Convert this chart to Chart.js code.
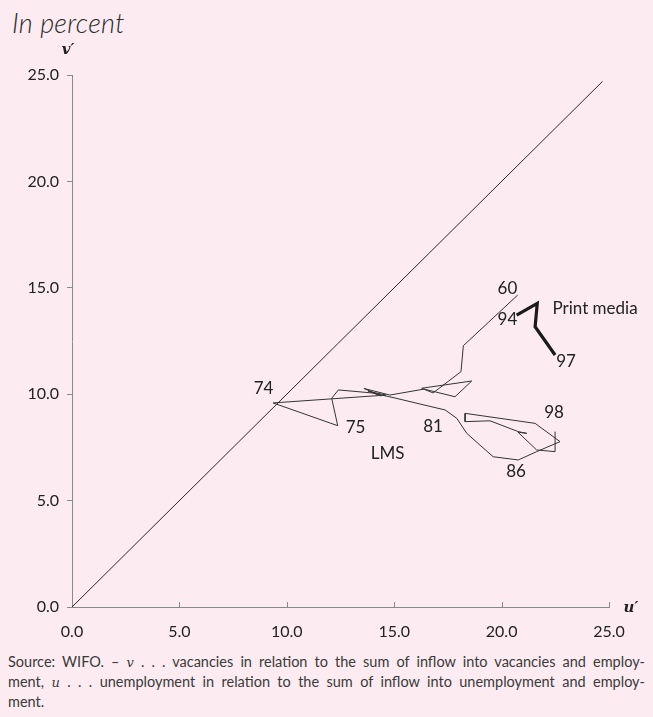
<!DOCTYPE html>
<html>
<head>
<meta charset="utf-8">
<script src="https://cdn.jsdelivr.net/npm/chart.js@4.4.1/dist/chart.umd.min.js"></script>
<style>
    body { margin: 0; background: #fcecf1; width: 653px; height: 717px; overflow: hidden; font-family: Lato, sans-serif; color: #2b2b2b; }
    #title { position: absolute; left: 12px; top: 6px; font-size: 27px; font-style: italic; font-weight: 300; letter-spacing: 0.3px; }
    #wrap { position: absolute; left: 0; top: 0; width: 653px; height: 645px; }
    #source { position: absolute; left: 8px; top: 652px; width: 637px; font-size: 14.5px; line-height: 19px; color: #3a3a3a; }
    #source div { text-align: justify; text-align-last: justify; white-space: nowrap; }
    #source div.last { text-align-last: left; }
    #source i { font-family: "DejaVu Serif", serif; font-size: 13px; }
</style>
</head>
<body>
<div id="title">In percent</div>
<div id="wrap"><canvas id="myChart" width="653" height="645"></canvas></div>
<div id="source">
    <div>Source: WIFO. – <i>v</i> . . . vacancies in relation to the sum of inflow into vacancies and employ-</div>
    <div>ment, <i>u</i> . . . unemployment in relation to the sum of inflow into unemployment and employ-</div>
    <div class="last">ment.</div>
</div>
<script>
document.addEventListener('DOMContentLoaded', () => {
    'use strict';

    // LMS series, 1960-1998 (u' = x, v' = y, in percent)
    const lmsYears = [1960, 1961, 1962, 1963, 1964, 1965, 1966, 1967, 1968, 1969,
        1970, 1971, 1972, 1973, 1974, 1975, 1976, 1977, 1978, 1979,
        1980, 1981, 1982, 1983, 1984, 1985, 1986, 1987, 1988, 1989,
        1990, 1991, 1992, 1993, 1994, 1995, 1996, 1997, 1998];
    const lmsU = [20.75, 18.22, 18.11, 16.81, 16.28, 18.61, 17.83, 16.39, 14.80, 13.59,
        14.39, 13.78, 13.97, 14.62, 9.36, 12.37, 12.09, 12.40, 13.97, 15.04,
        16.20, 17.37, 17.91, 18.38, 18.99, 19.61, 20.78, 21.63, 22.72, 21.56,
        18.30, 18.30, 19.46, 20.78, 21.17, 20.76, 21.63, 22.49, 22.49];
    const lmsV = [14.66, 12.28, 11.06, 10.06, 10.28, 10.62, 9.88, 10.24, 9.96, 10.27,
        9.92, 10.15, 10.10, 9.96, 9.59, 8.52, 9.81, 10.20, 10.06, 9.82,
        9.54, 9.26, 8.87, 8.16, 7.61, 7.06, 6.91, 7.30, 7.77, 8.63,
        9.10, 8.71, 8.75, 8.24, 8.16, 8.22, 7.38, 7.30, 8.24];

    // Print media series, 1994-1997
    const printYears = [1994, 1995, 1996, 1997];
    const printU = [20.70, 21.66, 21.56, 22.49];
    const printV = [13.72, 14.27, 13.17, 11.84];

    // 45 degree line
    const diagU = [0, 24.7];
    const diagV = [0, 24.7];

    const axisTicks = [0, 5, 10, 15, 20, 25];

    // text labels inside the plot, centred on (u', v')
    const noteText = ['60', '94', '97', 'Print media', '98', '86', '81', '75', '74', 'LMS'];
    const noteU = [20.27, 20.27, 23.0, 24.35, 22.44, 20.67, 16.81, 13.2, 8.92, 14.69];
    const noteV = [14.97, 13.49, 11.54, 14.05, 9.14, 6.37, 8.46, 8.44, 10.27, 7.21];

    const toPoints = (xs, ys) => xs.map((x, i) => ({ x: x, y: ys[i] }));

    const extras = {
        id: 'extras',
        afterDatasetsDraw(chart) {
            const { ctx, chartArea, scales } = chart;
            const xs = scales.x, ys = scales.y;
            ctx.save();
            // small inward ticks on the u' axis
            ctx.strokeStyle = '#8a8a8a';
            ctx.lineWidth = 1;
            axisTicks.slice(1).forEach(t => {
                const px = Math.round(xs.getPixelForValue(t)) + 0.5;
                ctx.beginPath();
                ctx.moveTo(px, chartArea.bottom);
                ctx.lineTo(px, chartArea.bottom - 5);
                ctx.stroke();
            });
            // notes
            ctx.fillStyle = '#222';
            ctx.font = '17px Lato';
            ctx.textAlign = 'center';
            ctx.textBaseline = 'middle';
            noteText.forEach((t, i) => {
                ctx.fillText(t, xs.getPixelForValue(noteU[i]), ys.getPixelForValue(noteV[i]));
            });
            // axis names
            ctx.font = 'italic bold 15px "DejaVu Serif"';
            ctx.fillText('v\u2032', chartArea.left - 4, chartArea.top - 25);
            ctx.fillText('u\u2032', chartArea.right + 22, chartArea.bottom + 1);
            ctx.restore();
        }
    };

    const ctx = document.getElementById('myChart').getContext('2d');
    const myChart = new Chart(ctx, {
        type: 'scatter',
        data: {
            datasets: [{
                label: '45 degree',
                data: toPoints(diagU, diagV),
                showLine: true,
                borderColor: '#2a2a2a',
                borderWidth: 1,
                pointRadius: 0
            }, {
                label: 'LMS',
                data: toPoints(lmsU, lmsV),
                showLine: true,
                borderColor: '#333',
                borderWidth: 1,
                pointRadius: 0
            }, {
                label: 'Print media',
                data: toPoints(printU, printV),
                showLine: true,
                borderColor: '#1a1a1a',
                borderWidth: 3.2,
                pointRadius: 0
            }]
        },
        options: {
            responsive: false,
            animation: false,
            layout: { padding: { left: 0, right: 44, top: 75, bottom: 0 } },
            plugins: {
                legend: { display: false },
                tooltip: { enabled: false }
            },
            scales: {
                x: {
                    type: 'linear',
                    min: 0,
                    max: 25,
                    afterFit: s => { s.height = 38; },
                    afterBuildTicks: s => { s.ticks = axisTicks.map(v => ({ value: v })); },
                    border: { display: true, color: '#8a8a8a', width: 1 },
                    grid: { display: true, drawOnChartArea: false, drawTicks: false },
                    ticks: {
                        padding: 15,
                        color: '#222',
                        font: { family: 'Lato', size: 16 },
                        callback: v => v.toFixed(1)
                    }
                },
                y: {
                    type: 'linear',
                    min: 0,
                    max: 25,
                    afterFit: s => { s.width = 72; },
                    afterBuildTicks: s => { s.ticks = axisTicks.map(v => ({ value: v })); },
                    border: { display: true, color: '#8a8a8a', width: 1 },
                    grid: { display: true, drawOnChartArea: false, drawTicks: true, tickLength: 5, color: '#8a8a8a' },
                    ticks: {
                        padding: 8,
                        color: '#222',
                        font: { family: 'Lato', size: 16 },
                        callback: v => v.toFixed(1)
                    }
                }
            }
        },
        plugins: [extras]
    });
});
</script>
</body>
</html>
